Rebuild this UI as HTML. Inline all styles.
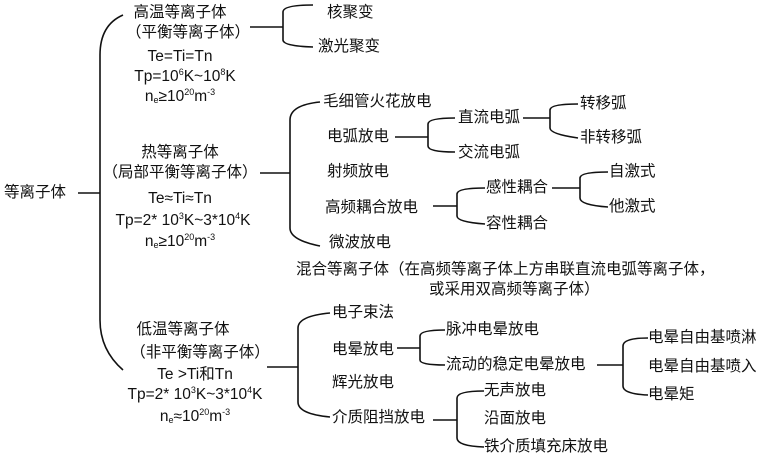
<!DOCTYPE html>
<html><head><meta charset="utf-8">
<style>
html,body{margin:0;padding:0;background:#fff;}
#c{position:relative;width:767px;height:462px;overflow:hidden;font-family:"Liberation Sans","Noto Sans CJK SC",sans-serif;font-size:15.5px;color:#111;}
.t{position:absolute;line-height:20px;white-space:nowrap;}
.m{transform:translateX(-50%);text-align:center;}
sup{font-size:9px;vertical-align:6px;line-height:0;}
sub{font-size:9px;vertical-align:-2px;line-height:0;}
svg{position:absolute;left:0;top:0;}
</style></head><body><div id="c">
<svg width="767" height="462" fill="none" stroke="#111" stroke-width="1.6">
<path d="M78 193H100"/>
<path d="M123 15Q100 25 100 55V320Q100 350 123 370"/>
<path d="M250 27H283"/>
<path d="M313 5Q283 5 283 12V40Q283 46 313 47"/>
<path d="M260 173H290"/>
<path d="M320 102Q290 105 290 120V228Q290 240 320 246"/>
<path d="M395 137H428"/>
<path d="M455 118Q428 118 428 124V146Q428 152 455 152"/>
<path d="M523 118H550"/>
<path d="M578 104Q550 104 550 110V128Q550 134 578 138"/>
<path d="M433 206H457"/>
<path d="M485 188Q457 188 457 194V216Q457 222 485 224"/>
<path d="M552 188H580"/>
<path d="M608 172Q580 172 580 178V198Q580 205 608 207"/>
<path d="M267 367H298"/>
<path d="M330 313Q298 316 298 328V402Q298 414 330 417"/>
<path d="M397 348H420"/>
<path d="M445 330Q420 330 420 336V360Q420 365 445 365"/>
<path d="M597 365H623"/>
<path d="M648 338Q623 338 623 346V386Q623 394 648 395"/>
<path d="M433 420H457"/>
<path d="M484 391Q457 391 457 398V438Q457 446 484 447"/>
</svg>
<div class="t" style="left:4px;top:183px">等离子体</div>
<div class="t m" style="left:180px;top:3px">高温等离子体</div>
<div class="t m" style="left:188px;top:23px">（平衡等离子体）</div>
<div class="t m" style="left:180px;top:47px">Te=Ti=Tn</div>
<div class="t m" style="left:185px;top:67px">Tp=10<sup>6</sup>K~10<sup>8</sup>K</div>
<div class="t m" style="left:180px;top:87px">n<sub>e</sub>≥10<sup>20</sup>m<sup>-3</sup></div>
<div class="t" style="left:327px;top:3px">核聚变</div>
<div class="t" style="left:318px;top:37px">激光聚变</div>
<div class="t m" style="left:180px;top:143px">热等离子体</div>
<div class="t m" style="left:180px;top:163px">（局部平衡等离子体）</div>
<div class="t m" style="left:180px;top:189px">Te≈Ti≈Tn</div>
<div class="t m" style="left:183px;top:211px">Tp=2* 10<sup>3</sup>K~3*10<sup>4</sup>K</div>
<div class="t m" style="left:180px;top:232px">n<sub>e</sub>≥10<sup>20</sup>m<sup>-3</sup></div>
<div class="t" style="left:323px;top:92px">毛细管火花放电</div>
<div class="t" style="left:327px;top:127px">电弧放电</div>
<div class="t" style="left:327px;top:162px">射频放电</div>
<div class="t" style="left:325px;top:198px">高频耦合放电</div>
<div class="t" style="left:329px;top:233px">微波放电</div>
<div class="t" style="left:458px;top:108px">直流电弧</div>
<div class="t" style="left:458px;top:143px">交流电弧</div>
<div class="t" style="left:580px;top:94px">转移弧</div>
<div class="t" style="left:580px;top:128px">非转移弧</div>
<div class="t" style="left:486px;top:178px">感性耦合</div>
<div class="t" style="left:486px;top:214px">容性耦合</div>
<div class="t" style="left:609px;top:162px">自激式</div>
<div class="t" style="left:609px;top:197px">他激式</div>
<div class="t" style="left:296px;top:260px">混合等离子体（在高频等离子体上方串联直流电弧等离子体，</div>
<div class="t" style="left:429px;top:280px">或采用双高频等离子体）</div>
<div class="t m" style="left:183px;top:320px">低温等离子体</div>
<div class="t m" style="left:200px;top:343px">（非平衡等离子体）</div>
<div class="t m" style="left:195px;top:365px">Te &gt;Ti和Tn</div>
<div class="t m" style="left:195px;top:385px">Tp=2* 10<sup>3</sup>K~3*10<sup>4</sup>K</div>
<div class="t m" style="left:195px;top:407px">n<sub>e</sub>≈10<sup>20</sup>m<sup>-3</sup></div>
<div class="t" style="left:332px;top:303px">电子束法</div>
<div class="t" style="left:332px;top:340px">电晕放电</div>
<div class="t" style="left:332px;top:373px">辉光放电</div>
<div class="t" style="left:332px;top:408px">介质阻挡放电</div>
<div class="t" style="left:446px;top:320px">脉冲电晕放电</div>
<div class="t" style="left:446px;top:355px">流动的稳定电晕放电</div>
<div class="t" style="left:648px;top:328px">电晕自由基喷淋</div>
<div class="t" style="left:648px;top:357px">电晕自由基喷入</div>
<div class="t" style="left:648px;top:385px">电晕矩</div>
<div class="t" style="left:484px;top:381px">无声放电</div>
<div class="t" style="left:484px;top:409px">沿面放电</div>
<div class="t" style="left:484px;top:437px">铁介质填充床放电</div>
</div></body></html>
